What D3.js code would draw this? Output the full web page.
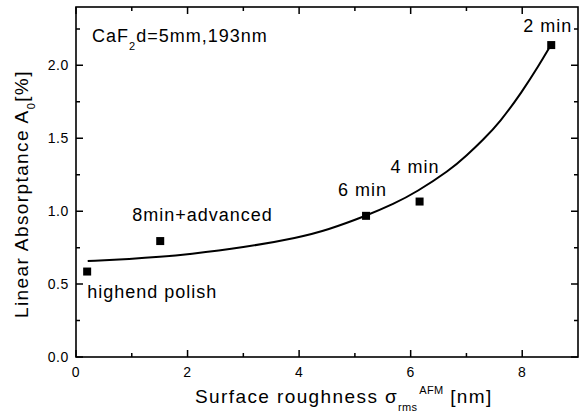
<!doctype html>
<html>
<head>
<meta charset="utf-8">
<script src="https://d3js.org/d3.v7.min.js"></script>
<style>
  body { margin: 0; background: #fff; }
  svg text { font-family: "Liberation Sans", Arial, sans-serif; fill: #000; }
  .ticklabel { font-size: 14px; letter-spacing: 0.6px; }
  .note { font-size: 18px; letter-spacing: 1px; }
  .title { font-size: 19px; letter-spacing: 1.4px; }
</style>
</head>
<body>
<script>

// measured samples
var sampleNames = ['highend polish', '8min+advanced', '6 min', '4 min', '2 min'];
var roughness   = [0.20, 1.51, 5.20, 6.16, 8.52];
var absorptance = [0.586, 0.795, 0.968, 1.066, 2.139];

// fitted curve
var fitX = [0.21, 1.0, 1.5, 2.0, 3.0, 4.0, 4.5, 5.2, 5.7, 6.1, 6.7, 7.0, 7.3, 7.6, 8.0, 8.3, 8.5];
var fitY = [0.658, 0.673, 0.686, 0.703, 0.75, 0.82, 0.87, 0.968, 1.05, 1.13, 1.28, 1.38, 1.49, 1.61, 1.82, 2.0, 2.13];

// axis ticks
var xMajor = [0, 2, 4, 6, 8];
var xMinor = [1, 3, 5, 7];
var yMajor = [0.0, 0.5, 1.0, 1.5, 2.0];
var yMinor = [0.25, 0.75, 1.25, 1.75, 2.25];

// label offsets from each point (px)
var labelDx = [0, -28, -28, -29, -28];
var labelDy = [26, -20, -20, -29, -13];

var width = 586, height = 417;
var margin = {top: 7, right: 8, bottom: 60, left: 76};
var w = width - margin.left - margin.right;
var h = height - margin.top - margin.bottom;

var svg = d3.select('body').append('svg')
    .attr('width', width)
    .attr('height', height);

var g = svg.append('g')
    .attr('transform', 'translate(' + margin.left + ',' + margin.top + ')');

var x = d3.scaleLinear().domain([0, 9]).range([0, w]);
var y = d3.scaleLinear().domain([0, 2.4]).range([h, 0]);

// inward ticks on all four sides
var tickSegs = [];
xMajor.forEach(function(v) { tickSegs.push({k: 'x', v: v, len: 7}); });
xMinor.forEach(function(v) { tickSegs.push({k: 'x', v: v, len: 4}); });
yMajor.forEach(function(v) { tickSegs.push({k: 'y', v: v, len: 7}); });
yMinor.forEach(function(v) { tickSegs.push({k: 'y', v: v, len: 4}); });

var tickPath = '';
tickSegs.forEach(function(t) {
  if (t.k === 'x') {
    var px = x(t.v);
    tickPath += 'M' + px + ',' + h + 'V' + (h - t.len);
    tickPath += 'M' + px + ',0V' + t.len;
  } else {
    var py = y(t.v);
    tickPath += 'M0,' + py + 'H' + t.len;
    tickPath += 'M' + w + ',' + py + 'H' + (w - t.len);
  }
});

g.append('path')
    .attr('d', tickPath)
    .attr('fill', 'none')
    .attr('stroke', '#000')
    .attr('stroke-width', 1.5);

// tick labels
g.selectAll('text.xl')
    .data(xMajor)
    .enter().append('text')
    .attr('class', 'ticklabel xl')
    .attr('x', function(d) { return x(d); })
    .attr('y', h + 20)
    .attr('text-anchor', 'middle')
    .text(d3.format('d'));

g.selectAll('text.yl')
    .data(yMajor)
    .enter().append('text')
    .attr('class', 'ticklabel yl')
    .attr('x', -7)
    .attr('y', function(d) { return y(d) + 5; })
    .attr('text-anchor', 'end')
    .text(d3.format('.1f'));

// frame
g.append('rect')
    .attr('x', 0).attr('y', 0)
    .attr('width', w).attr('height', h)
    .attr('fill', 'none')
    .attr('stroke', '#000')
    .attr('stroke-width', 1.6);

// fit curve
var fit = fitX.map(function(d, i) { return [d, fitY[i]]; });
var line = d3.line()
    .x(function(d) { return x(d[0]); })
    .y(function(d) { return y(d[1]); })
    .curve(d3.curveBasis);

g.append('path')
    .datum(fit)
    .attr('d', line)
    .attr('fill', 'none')
    .attr('stroke', '#000')
    .attr('stroke-width', 2);

// sample points
var pts = roughness.map(function(d, i) {
  return {x: d, y: absorptance[i], name: sampleNames[i], dx: labelDx[i], dy: labelDy[i]};
});

g.selectAll('rect.pt')
    .data(pts)
    .enter().append('rect')
    .attr('class', 'pt')
    .attr('x', function(d) { return x(d.x) - 4; })
    .attr('y', function(d) { return y(d.y) - 4; })
    .attr('width', 8)
    .attr('height', 8)
    .attr('fill', '#000');

g.selectAll('text.lbl')
    .data(pts)
    .enter().append('text')
    .attr('class', 'note lbl')
    .attr('x', function(d) { return x(d.x) + d.dx; })
    .attr('y', function(d) { return y(d.y) + d.dy; })
    .text(function(d) { return d.name; });

// sample description
var cap = g.append('text')
    .attr('class', 'note')
    .attr('x', 16)
    .attr('y', 35);
cap.append('tspan').text('CaF');
cap.append('tspan').attr('dy', 8).style('font-size', '11px').text('2');
cap.append('tspan').attr('dy', -8).text('d=5mm,193nm');

// x title
var xt = svg.append('text')
    .attr('class', 'title')
    .attr('x', 195)
    .attr('y', 403);
xt.append('tspan').text('Surface roughness \u03c3');
xt.append('tspan').attr('dy', 8).style('font-size', '11px').style('letter-spacing', '0.3px').text('rms');
xt.append('tspan').attr('dy', -17).attr('dx', 2).style('font-size', '11px').style('letter-spacing', '0.3px').text('AFM');
xt.append('tspan').attr('dy', 9).text(' [nm]');

// y title
var yt = svg.append('text')
    .attr('class', 'title')
    .attr('transform', 'translate(28,318) rotate(-90)');
yt.append('tspan').text('Linear Absorptance A');
yt.append('tspan').attr('dy', 7).style('font-size', '11px').text('0');
yt.append('tspan').attr('dy', -7).text('[%]');

</script>
</body>
</html>
